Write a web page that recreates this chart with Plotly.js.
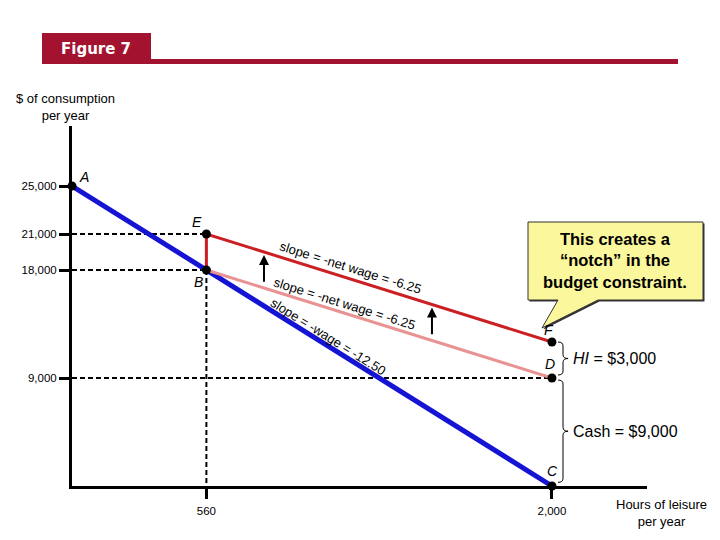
<!DOCTYPE html>
<html>
<head>
<meta charset="utf-8">
<script src="https://cdn.plot.ly/plotly-3.0.1.min.js"></script>
<style>html,body{margin:0;padding:0;background:#fff;}#chart{width:720px;height:540px;}</style>
</head>
<body>
<div id="chart"></div>
<script>
// ---- data ----
const pointLabels  = ['A', 'E', 'B', 'F', 'D', 'C'];
const pointHours   = [0, 560, 560, 2000, 2000, 2000];
const pointDollars = [25000, 21000, 18000, 12000, 9000, 0];
const yTickVals = [9000, 18000, 21000, 25000];
const yTickText = ['9,000', '18,000', '21,000', '25,000'];
const xTickVals = [560, 2000];
const xTickText = ['560', '2,000'];
const slopeTexts = ['slope = -net wage = -6.25', 'slope = -net wage = -6.25', 'slope = -wage = -12.50'];
const arrowHours = [800, 1500];
const braceTexts = ['<i>HI</i> = $3,000', 'Cash = $9,000'];
const calloutText = 'This creates a<br>“notch” in the<br>budget constraint.';

const P = {};
pointLabels.forEach((k, i) => { P[k] = {x: pointHours[i], y: pointDollars[i]}; });
function lineAt(a, b, x) { return a.y + (b.y - a.y) * (x - a.x) / (b.x - a.x); }

// pixel -> paper helpers for decorations
const L = 72, R = 73, T = 126, B = 54, W = 720 - L - R, H = 540 - T - B;
const px = v => (v - L) / W;
const py = v => (540 - B - v) / H;

const FONT = 'Liberation Sans, Arial, sans-serif';
const dashStyle = '5px,3px';

const traces = [
  // dashed guide lines
  {x: [0, P.E.x], y: [P.E.y, P.E.y], mode: 'lines', line: {color: '#000', width: 2, dash: dashStyle}},
  {x: [0, P.B.x], y: [P.B.y, P.B.y], mode: 'lines', line: {color: '#000', width: 2, dash: dashStyle}},
  {x: [0, P.D.x], y: [P.D.y, P.D.y], mode: 'lines', line: {color: '#000', width: 2, dash: dashStyle}},
  {x: [P.B.x, P.B.x], y: [P.B.y, 0], mode: 'lines', line: {color: '#000', width: 2, dash: dashStyle}},
  // blue budget line
  {x: [P.A.x, P.C.x], y: [P.A.y, P.C.y], mode: 'lines', line: {color: '#1414D2', width: 5}},
  // pink line
  {x: [P.B.x, P.D.x], y: [P.B.y, P.D.y], mode: 'lines', line: {color: '#E89292', width: 3}},
  // red line
  {x: [P.B.x, P.E.x, P.F.x], y: [P.B.y, P.E.y, P.F.y], mode: 'lines', line: {color: '#CC1F24', width: 3}},
  // points
  {x: pointHours, y: pointDollars, mode: 'markers', marker: {color: '#000', size: 9}, cliponaxis: false}
];

const labelShift = {A: [12, 9], E: [-9, 12], B: [-8, -12], F: [-3, 12], D: [-2, 14], C: [1, 15]};
const annotations = [];
pointLabels.forEach(k => {
  annotations.push({x: P[k].x, y: P[k].y, text: '<i>' + k + '</i>', showarrow: false,
    xanchor: 'center', yanchor: 'middle',
    xshift: labelShift[k][0], yshift: labelShift[k][1], font: {family: FONT, size: 14, color: '#000'}});
});

// slope texts
const sx = [1160, 1135, 1067];
const lines = [[P.E, P.F], [P.B, P.D], [P.A, P.C]];
const angles = [17.3, 17.3, 32];
const shifts = [12, 10, 10];
slopeTexts.forEach((t, i) => {
  annotations.push({x: sx[i], y: lineAt(lines[i][0], lines[i][1], sx[i]), text: t, showarrow: false,
    xanchor: 'center', yanchor: 'middle',
    textangle: angles[i], yshift: shifts[i], font: {family: FONT, size: 13, color: '#000'}});
});

// arrows from pink to red line
arrowHours.forEach(h => {
  annotations.push({x: h, y: lineAt(P.E, P.F, h) - 250, ax: h, ay: lineAt(P.B, P.D, h) + 400,
    axref: 'x', ayref: 'y', xref: 'x', yref: 'y', text: '', showarrow: true,
    arrowhead: 2, arrowsize: 1, arrowwidth: 2, arrowcolor: '#000'});
});

// braces
const braceX0 = 2025, braceX1 = 2067, braceXh = (braceX0 + braceX1) / 2, r = 330;
function bracePath(top, bot) {
  const mid = (top + bot) / 2;
  return `M ${braceX0},${top} Q ${braceXh},${top} ${braceXh},${top - r} L ${braceXh},${mid + r} ` +
    `Q ${braceXh},${mid} ${braceX1},${mid} Q ${braceXh},${mid} ${braceXh},${mid - r} ` +
    `L ${braceXh},${bot + r} Q ${braceXh},${bot} ${braceX0},${bot}`;
}
const braceRanges = [[P.F.y, P.D.y + 250], [P.D.y - 170, P.C.y + 300]];
const shapes = [];
braceRanges.forEach((rg, i) => {
  shapes.push({type: 'path', xref: 'x', yref: 'y', path: bracePath(rg[0], rg[1]), line: {color: '#000', width: 1}});
  annotations.push({x: braceX1, y: (rg[0] + rg[1]) / 2, text: braceTexts[i], showarrow: false,
    xanchor: 'left', yanchor: 'middle', xshift: 3, font: {family: FONT, size: 16, color: '#000'}});
});

// header
shapes.push({type: 'rect', xref: 'paper', yref: 'paper', x0: px(42), x1: px(151), y0: py(64), y1: py(33),
  fillcolor: '#A3122E', line: {width: 0}, layer: 'above'});
shapes.push({type: 'rect', xref: 'paper', yref: 'paper', x0: px(151), x1: px(678), y0: py(64), y1: py(59),
  fillcolor: '#A3122E', line: {width: 0}, layer: 'above'});
annotations.push({xref: 'paper', yref: 'paper', x: px(96), y: py(49), text: '<b>Figure 7</b>', showarrow: false,
  xanchor: 'center', yanchor: 'middle',
  font: {family: 'DejaVu Sans, Verdana, sans-serif', size: 15, color: '#fff'}});

// callout
const cp = [[528,222],[703,222],[703,300],[598,300],[542,328],[558,300],[528,300]];
const toPath = (pts, dx, dy) => 'M ' + pts.map(p => `${px(p[0] + dx)},${py(p[1] + dy)}`).join(' L ') + ' Z';
shapes.push({type: 'path', xref: 'paper', yref: 'paper', path: toPath(cp, 1.5, 1.5), fillcolor: '#333', line: {width: 0}, layer: 'above'});
shapes.push({type: 'path', xref: 'paper', yref: 'paper', path: toPath(cp, 0, 0), fillcolor: '#FBF79C', line: {color: '#333', width: 1}, layer: 'above'});
annotations.push({xref: 'paper', yref: 'paper', x: px(615), y: py(260), text: calloutText, showarrow: false,
  xanchor: 'center', yanchor: 'middle',
  font: {family: FONT, size: 16.5, color: '#000', weight: 'bold'}});

// axis titles
annotations.push({xref: 'paper', yref: 'paper', x: px(65), y: py(107), text: '$ of consumption<br>per year', showarrow: false,
  xanchor: 'center', yanchor: 'middle', font: {family: FONT, size: 13, color: '#000'}});
annotations.push({xref: 'paper', yref: 'paper', x: px(661), y: py(513), text: 'Hours of leisure<br>per year', showarrow: false,
  xanchor: 'center', yanchor: 'middle', font: {family: FONT, size: 13, color: '#000'}});

const layout = {
  width: 720, height: 540,
  margin: {l: L, r: R, t: T, b: B, pad: 0},
  paper_bgcolor: '#fff', plot_bgcolor: '#fff',
  showlegend: false,
  xaxis: {range: [0, 2396], showgrid: false, zeroline: false, showline: true, linecolor: '#000', linewidth: 3,
    tickmode: 'array', tickvals: xTickVals, ticktext: xTickText, ticks: 'outside', ticklen: 10, tickwidth: 3, tickcolor: '#000',
    ticklabelstandoff: 2, tickfont: {family: FONT, size: 11.5, color: '#000'}, fixedrange: true},
  yaxis: {range: [0, 30000], showgrid: false, zeroline: false, showline: true, linecolor: '#000', linewidth: 3,
    tickmode: 'array', tickvals: yTickVals, ticktext: yTickText, ticks: 'outside', ticklen: 10, tickwidth: 3, tickcolor: '#000',
    tickfont: {family: FONT, size: 11.5, color: '#000'}, fixedrange: true},
  shapes: shapes,
  annotations: annotations
};

Plotly.newPlot('chart', traces, layout, {displayModeBar: false, staticPlot: true});
</script>
</body>
</html>
